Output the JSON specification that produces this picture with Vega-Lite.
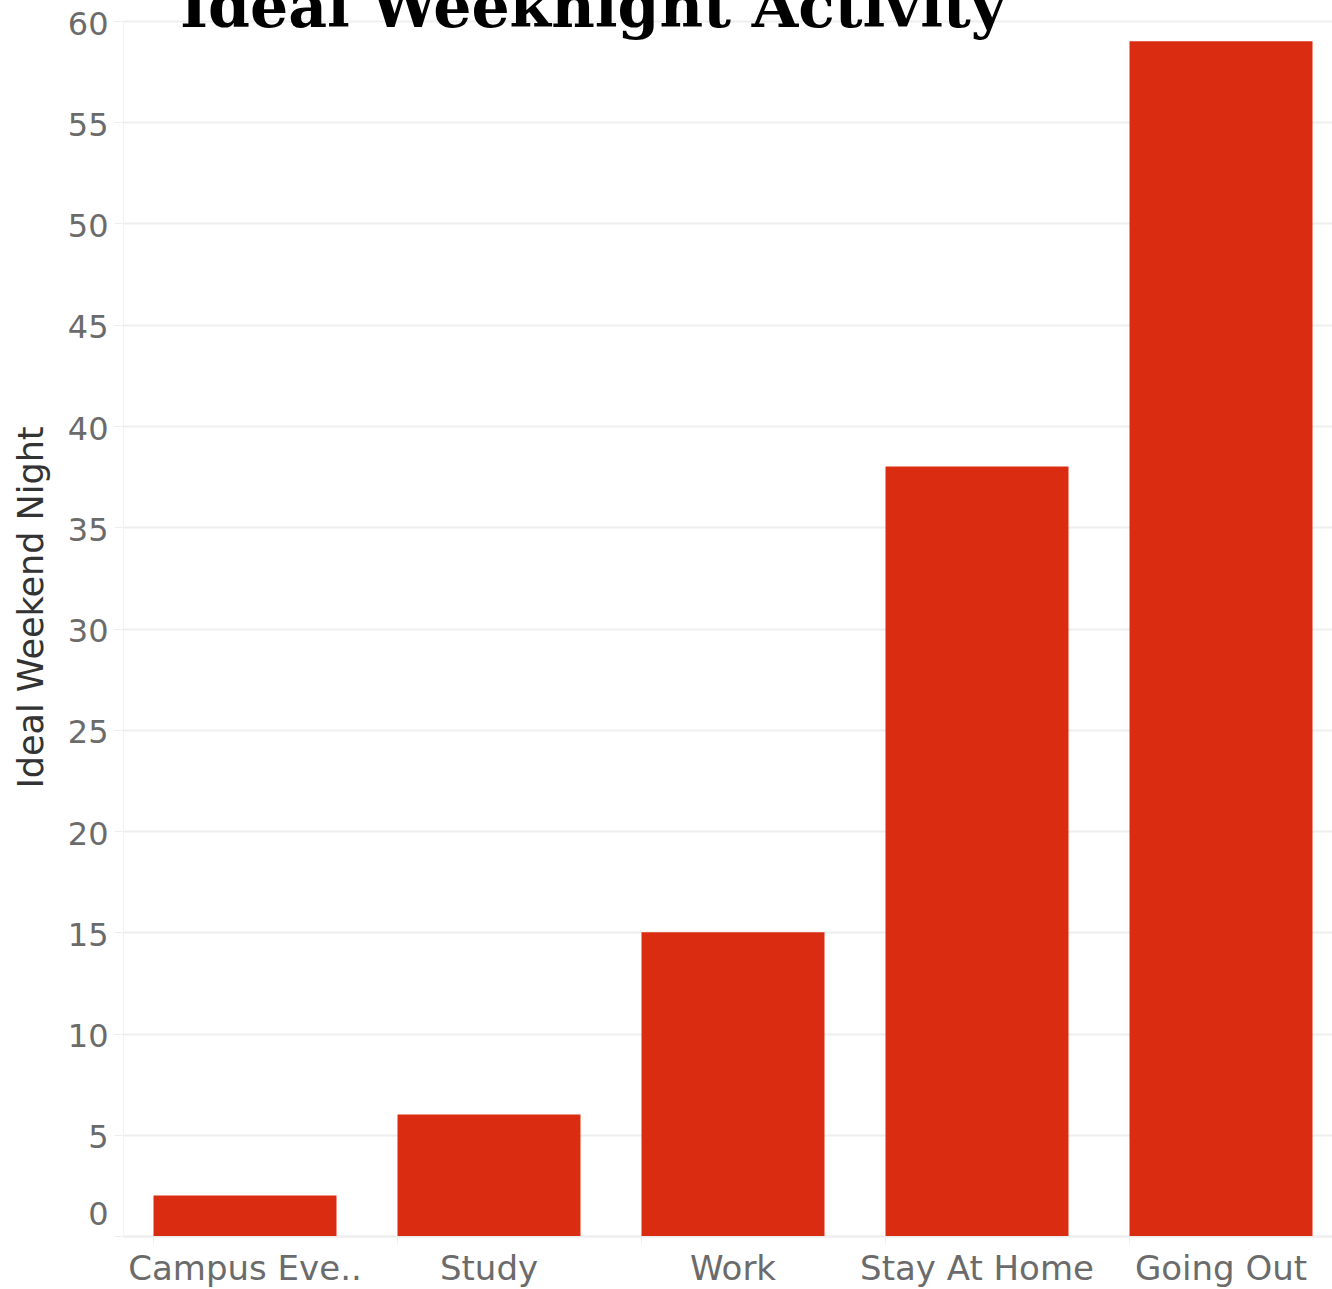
{
  "$schema": "https://vega.github.io/schema/vega-lite/v6.json",
  "autosize": {"type": "none"},
  "padding": {"left": 123, "top": 21, "right": 0, "bottom": 53},
  "width": 1209,
  "height": 1215,
  "background": "white",
  "title": {
    "text": "Ideal Weeknight Activity",
    "anchor": "start",
    "frame": "group",
    "orient": "top",
    "font": "DejaVu Serif",
    "fontSize": 60,
    "fontWeight": "bold",
    "color": "#000000",
    "baseline": "alphabetic",
    "offset": 0,
    "dy": 79,
    "dx": 57
  },
  "data": {
    "values": [
      {"activity": "Campus Events", "count": 2},
      {"activity": "Study", "count": 6},
      {"activity": "Work", "count": 15},
      {"activity": "Stay At Home", "count": 38},
      {"activity": "Going Out", "count": 59}
    ]
  },
  "mark": {"type": "bar", "color": "#DA2C10"},
  "encoding": {
    "x": {
      "field": "activity",
      "type": "nominal",
      "sort": null,
      "scale": {"range": [0, 1220], "paddingInner": 0.25, "paddingOuter": 0.125},
      "axis": {
        "title": null,
        "labelAngle": 0,
        "labelFont": "DejaVu Sans",
        "labelFontSize": 34,
        "labelColor": "#6B6B6B",
        "labelPadding": 9,
        "labelLimit": 0,
        "labelExpr": "datum.label == 'Campus Events' ? 'Campus Eve..' : datum.label",
        "domainColor": "#EEEEEE",
        "domainWidth": 2,
        "tickColor": "#EEEEEE",
        "tickSize": 7,
        "bandPosition": 0,
        "grid": false
      }
    },
    "y": {
      "field": "count",
      "type": "quantitative",
      "scale": {"domain": [0, 60], "nice": false},
      "axis": {
        "title": "Ideal Weekend Night",
        "titleFont": "DejaVu Sans",
        "titleFontSize": 35,
        "titleFontWeight": "normal",
        "titleColor": "#333333",
        "titlePadding": 18,
        "titleY": 586,
        "values": [0, 5, 10, 15, 20, 25, 30, 35, 40, 45, 50, 55, 60],
        "labelFont": "DejaVu Sans",
        "labelFontSize": 32,
        "labelColor": "#6B6B6B",
        "labelPadding": 6,
        "labelOffset": {"condition": {"test": "datum.value == 0", "value": -22}, "value": 3},
        "domainColor": "#F2F2F2",
        "domainWidth": 1,
        "tickColor": "#EEEEEE",
        "tickSize": 9,
        "gridColor": "#EEEEEE",
        "gridWidth": 2
      }
    }
  },
  "config": {"view": {"stroke": null}}
}
